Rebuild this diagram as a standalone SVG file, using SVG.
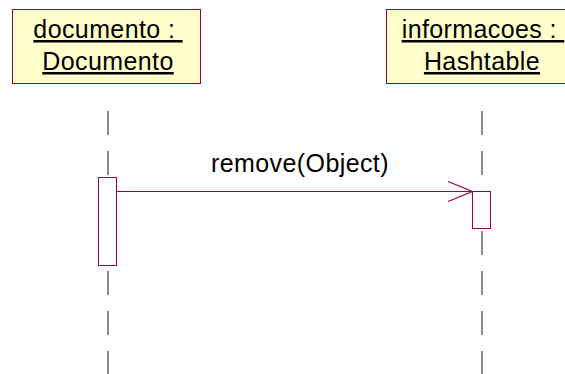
<svg xmlns="http://www.w3.org/2000/svg" width="565" height="374" viewBox="0 0 565 374">
  <style>
    .obj { fill: #FFFFCC; stroke: #A0003A; stroke-width: 1; }
    .lbl { font-family: "Liberation Sans", Arial, sans-serif; font-size: 25px; fill: #000; text-anchor: middle; letter-spacing: 0.4px; white-space: pre; }
    .u { text-decoration: underline; }
    .life { stroke: #404040; stroke-width: 1.2; stroke-dasharray: 24 16; fill: none; }
    .act { fill: #FFFFFF; stroke: #A0003A; stroke-width: 1; }
    .msg { stroke: #A0003A; stroke-width: 1.2; fill: none; }
  </style>
  <rect width="565" height="374" fill="#FFFFFF"/>
  <g id="lifelines">
    <line class="life" x1="108" y1="111" x2="108" y2="374"/>
    <line class="life" x1="482" y1="111" x2="482" y2="374"/>
  </g>
  <g id="documento">
    <rect class="obj" x="12.5" y="9.5" width="188" height="74"/>
    <text class="lbl u" x="108" y="38">documento : </text>
    <text class="lbl u" x="108" y="70">Documento</text>
    <rect class="act" x="98.5" y="177.5" width="18" height="88"/>
  </g>
  <g id="informacoes">
    <rect class="obj" x="386.5" y="9.5" width="192" height="74"/>
    <text class="lbl u" x="483" y="38">informacoes : </text>
    <text class="lbl u" x="482" y="70">Hashtable</text>
    <rect class="act" x="472.5" y="191.5" width="18" height="37"/>
  </g>
  <g id="connectors">
    <line class="msg" x1="116.5" y1="191.5" x2="472.5" y2="191.5"/>
    <polyline class="msg" points="448,181.5 472.5,191.5 448,201.5"/>
    <text class="lbl" x="300" y="172">remove(Object)</text>
  </g>
</svg>
